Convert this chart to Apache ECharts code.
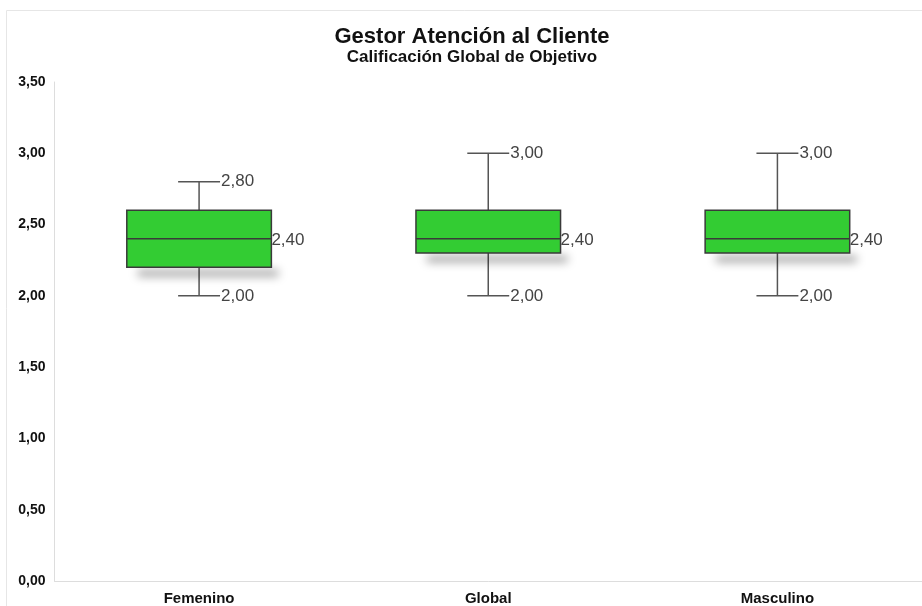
<!DOCTYPE html>
<html>
<head>
<meta charset="utf-8">
<script src="https://cdn.jsdelivr.net/npm/echarts@6/dist/echarts.min.js"></script>
<style>html,body{margin:0;padding:0;background:#fff}#c{width:922px;height:606px}</style>
</head>
<body>
<div id="c"></div>
<script>
var categories = ['Femenino', 'Global', 'Masculino'];
var minVals = [2.0, 2.0, 2.0];
var q1Vals = [2.2, 2.3, 2.3];
var medianVals = [2.4, 2.4, 2.4];
var q3Vals = [2.6, 2.6, 2.6];
var maxVals = [2.8, 3.0, 3.0];

function fmt(v) { return v.toFixed(2).replace('.', ','); }

var FONT = '"Liberation Sans", Arial, sans-serif';
var data = categories.map(function (c, i) {
  return [i, minVals[i], q1Vals[i], medianVals[i], q3Vals[i], maxVals[i]];
});

function renderItem(params, api) {
  var i = api.value(0);
  var band = api.size([1, 0])[0];
  var boxW = band * 0.5;
  var capW = boxW * 0.29;
  var pMin = api.coord([i, api.value(1)]);
  var pQ1 = api.coord([i, api.value(2)]);
  var pMed = api.coord([i, api.value(3)]);
  var pQ3 = api.coord([i, api.value(4)]);
  var pMax = api.coord([i, api.value(5)]);
  var cx = pMed[0];
  var xl = cx - boxW / 2, xr = cx + boxW / 2;
  var lineStyle = { stroke: '#555', lineWidth: 1.5 };
  var label = function (txt, x, y) {
    return { type: 'text', style: { text: txt, x: x, y: y, fill: '#444', font: '17px ' + FONT, textAlign: 'left', textVerticalAlign: 'middle' } };
  };
  return {
    type: 'group',
    children: [
      { type: 'line', shape: { x1: cx, y1: pMax[1], x2: cx, y2: pQ3[1] }, style: lineStyle },
      { type: 'line', shape: { x1: cx, y1: pQ1[1], x2: cx, y2: pMin[1] }, style: lineStyle },
      { type: 'line', shape: { x1: cx - capW / 2, y1: pMax[1], x2: cx + capW / 2, y2: pMax[1] }, style: lineStyle },
      { type: 'line', shape: { x1: cx - capW / 2, y1: pMin[1], x2: cx + capW / 2, y2: pMin[1] }, style: lineStyle },
      { type: 'rect', shape: { x: xl + 4, y: pQ1[1] - 9, width: boxW - 4, height: 6 },
        style: { fill: '#888', shadowBlur: 10, shadowOffsetX: 7, shadowOffsetY: 12, shadowColor: 'rgba(0,0,0,0.4)' } },
      { type: 'rect', shape: { x: xl, y: pQ3[1], width: boxW, height: pQ1[1] - pQ3[1] },
        style: { fill: '#33cc33', stroke: '#3a3a3a', lineWidth: 1.5 } },
      { type: 'line', shape: { x1: xl, y1: pMed[1], x2: xr, y2: pMed[1] }, style: { stroke: '#3a3a3a', lineWidth: 1.5 } },
      label(fmt(api.value(5)), cx + capW / 2 + 1, pMax[1]),
      label(fmt(api.value(3)), xr, pMed[1] + 1),
      label(fmt(api.value(1)), cx + capW / 2 + 1, pMin[1])
    ]
  };
}

var chart = echarts.init(document.getElementById('c'), null, { renderer: 'canvas' });
chart.setOption({
  backgroundColor: '#fff',
  animation: false,
  title: [
    { text: 'Gestor Atención al Cliente', left: 467, top: 21, textAlign: 'center',
      textStyle: { fontFamily: FONT, fontSize: 22, fontWeight: 'bold', color: '#111' } },
    { text: 'Calificación Global de Objetivo', left: 467, top: 44, textAlign: 'center',
      textStyle: { fontFamily: FONT, fontSize: 17, fontWeight: 'bold', color: '#111' } }
  ],
  graphic: [
    { type: 'rect', shape: { x: 6.5, y: 10.5, width: 930, height: 620 }, style: { fill: 'none', stroke: '#e6e6e6', lineWidth: 1 }, silent: true, z: -1 }
  ],
  grid: { left: 54.5, width: 873, top: 82, bottom: 24, containLabel: false },
  xAxis: {
    type: 'category',
    data: categories,
    axisLine: { show: true, lineStyle: { color: '#dddddd' } },
    axisTick: { show: false },
    axisLabel: { margin: 10, fontFamily: FONT, fontSize: 15, fontWeight: 'bold', color: '#111' },
    splitLine: { show: false }
  },
  yAxis: {
    type: 'value',
    min: 0, max: 3.5, interval: 0.5,
    axisLine: { show: true, lineStyle: { color: '#dddddd' } },
    axisTick: { show: false },
    splitLine: { show: false },
    axisLabel: { margin: 9, fontFamily: FONT, fontSize: 14, fontWeight: 'bold', color: '#111',
      formatter: function (v) { return fmt(v); } }
  },
  series: [{
    type: 'custom',
    renderItem: renderItem,
    encode: { x: 0, y: [1, 2, 3, 4, 5] },
    data: data,
    clip: false
  }]
});
</script>
</body>
</html>
